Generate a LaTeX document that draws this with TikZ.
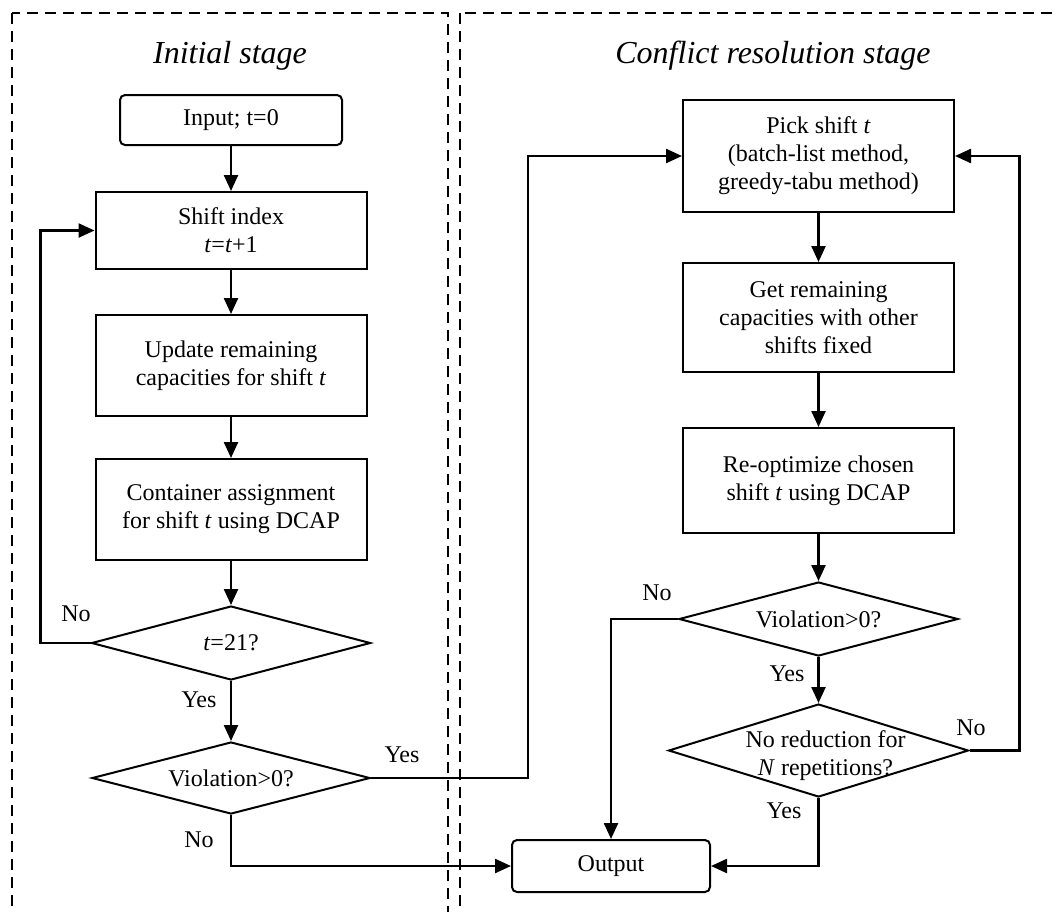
\documentclass[tikz,border=0pt]{standalone}
\usepackage{fontspec}
\setmainfont{Liberation Serif}
\usetikzlibrary{arrows.meta,shapes.geometric}

\begin{document}
\begin{tikzpicture}[x=1pt,y=-1pt,
  every node/.style={font=\fontsize{24}{28}\selectfont, inner sep=0pt},
  stagebox/.style={line width=2pt, dash pattern=on 11pt off 7pt},
  stagetitle/.style={font=\fontsize{32}{38}\selectfont\itshape, anchor=base},
  procbox/.style={draw, line width=2pt, align=center, minimum width=271pt},
  termbox/.style={draw, line width=2pt, rounded corners=5pt, align=center},
  decision/.style={draw, diamond, line width=2pt, inner sep=0pt},
  arr/.style={line width=2.4pt, -{Triangle[length=16pt,width=14pt]}},
  lbl/.style={}
]
\useasboundingbox (0,0) rectangle (1056,911);
\clip (0,0) rectangle (1056,911);

% stage frames
\draw[stagebox] (12,13) rectangle (448,940);
\draw[stagebox] (460,13) rectangle (1080,940);

\node[stagetitle] (titleA) at (230,63) {Initial stage};
\node[stagetitle] (titleB) at (773,63) {Conflict resolution stage};

% initial stage
\node[termbox, minimum width=222pt, minimum height=50pt] (input) at (231,120) {Input; t=0};
\node[procbox, minimum height=77pt] (shift) at (231,230.5) {Shift index\\\textit{t}=\textit{t}+1};
\node[procbox, minimum height=101pt] (update) at (231,365.5) {Update remaining\\capacities for shift \textit{t}};
\node[procbox, minimum height=101pt] (cont) at (231,509.5) {Container assignment\\for shift \textit{t} using DCAP};
\node[decision, minimum width=279pt, minimum height=74pt] (t21) at (231,643) {\makebox[0pt]{\textit{t}=21?}};
\node[decision, minimum width=278pt, minimum height=72pt] (viol1) at (231,778) {\makebox[0pt]{Violation>0?}};

% conflict resolution stage
\node[procbox, minimum height=112pt] (pick) at (818.5,156) {Pick shift \textit{t}\\(batch-list method,\\greedy-tabu method)};
\node[procbox, minimum height=109pt] (get) at (818.5,317.5) {Get remaining\\capacities with other\\shifts fixed};
\node[procbox, minimum height=105pt] (reopt) at (818.5,480.5) {Re-optimize chosen\\shift \textit{t} using DCAP};
\node[decision, minimum width=279pt, minimum height=74pt] (viol2) at (818.5,619) {\makebox[0pt]{Violation>0?}};
\node[decision, minimum width=300pt, minimum height=93pt] (nored) at (818.5,750.5)
  {\makebox[0pt]{\hspace{14pt}\raisebox{-11.4pt}[0pt][0pt]{\begin{tabular}{@{}c@{}}No reduction for\\\textit{N} repetitions?\end{tabular}}}};
\node[termbox, minimum width=198pt, minimum height=52pt] (output) at (611,866) {Output};

\coordinate (j1) at (528,156);

% connectors
\draw[arr] (input) -- (shift);
\draw[arr] (shift) -- (update);
\draw[arr] (update) -- (cont);
\draw[arr] (cont) -- (t21);
\draw[arr] (t21.west) -- ++(-50,0) |- (shift.west);
\draw[arr] (t21.south) -- (viol1.north);
\draw[arr] (viol1.east) -| (j1) -- (pick.west);
\draw[arr] (viol1.south) |- (output.west);
\draw[arr] (pick) -- (get);
\draw[arr] (get) -- (reopt);
\draw[arr] (reopt.south) -- (viol2.north);
\draw[arr] (viol2.west) -| (output.north);
\draw[arr] (viol2.south) -- (nored.north);
\draw[arr] (nored.east) -- ++(50,0) |- (pick.east);
\draw[arr] (nored.south) |- (output.east);

% branch labels
\node[lbl] (noA) at (76,614) {No};
\node[lbl] (yesA) at (199,700) {Yes};
\node[lbl] (yesB) at (402,755) {Yes};
\node[lbl] (noB) at (199,840) {No};
\node[lbl] (noC) at (657,593) {No};
\node[lbl] (yesC) at (787,674) {Yes};
\node[lbl] (yesD) at (784,811) {Yes};
\node[lbl] (noD) at (971,728) {No};
\end{tikzpicture}
\end{document}
